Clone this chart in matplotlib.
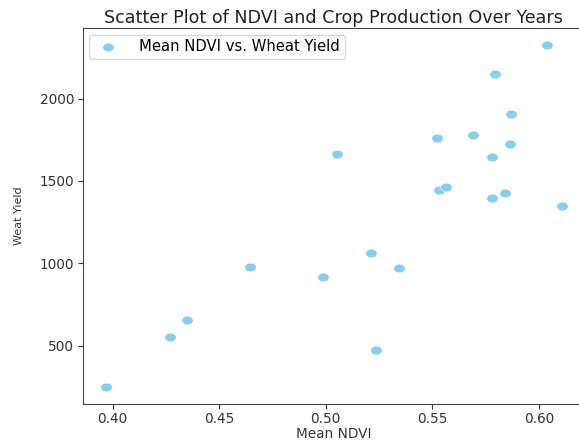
import matplotlib
matplotlib.use("Agg")
import matplotlib.pyplot as plt
from matplotlib.markers import MarkerStyle
from matplotlib.transforms import Affine2D

# Mean NDVI per year and the matching wheat yield
mean_ndvi = [0.3967, 0.4269, 0.4350, 0.4644, 0.4988, 0.5051, 0.5212, 0.5234,
             0.5344, 0.5521, 0.5532, 0.5563, 0.5689, 0.5779, 0.5779, 0.5795,
             0.5841, 0.5865, 0.5871, 0.6038, 0.6109]
wheat_yield = [251, 551, 656, 979, 917, 1661, 1064, 472,
               970, 1758, 1443, 1465, 1779, 1647, 1398, 2150,
               1425, 1724, 1908, 2323, 1350]

x_ticks = [0.40, 0.45, 0.50, 0.55, 0.60]
y_ticks = [500, 1000, 1500, 2000]

fig = plt.figure(figsize=(5.79, 4.41), dpi=100)
ax = fig.add_axes([0.1428, 0.0844, 0.8676, 0.8516])

# slightly wide oval dots
dot = MarkerStyle("o", transform=Affine2D().scale(1.3, 1.0))
ax.scatter(mean_ndvi, wheat_yield, s=40, marker=dot, color="skyblue",
           edgecolors="white", linewidths=0.4,
           label="Mean NDVI vs. Wheat Yield")

ax.set_title("Scatter Plot of NDVI and Crop Production Over Years",
             fontsize=12.6, pad=4, color="#222222")
ax.set_xlabel("Mean NDVI", fontsize=9.8, color="#333333")
ax.xaxis.set_label_coords(0.5, -0.062)
ax.set_ylabel("Weat Yield", fontsize=8, color="#333333")
ax.yaxis.set_label_coords(-0.117, 0.5)
ax.set_xticks(x_ticks)
ax.set_yticks(y_ticks)
ax.tick_params(labelsize=9.8, colors="#333333", pad=2.5)
for sp in ax.spines.values():
    sp.set_color("#444444")
ax.legend(loc="upper left", fontsize=10.6, borderpad=0.3,
          handletextpad=1.1, borderaxespad=0.45)

fig.savefig("out.png", dpi=100)
